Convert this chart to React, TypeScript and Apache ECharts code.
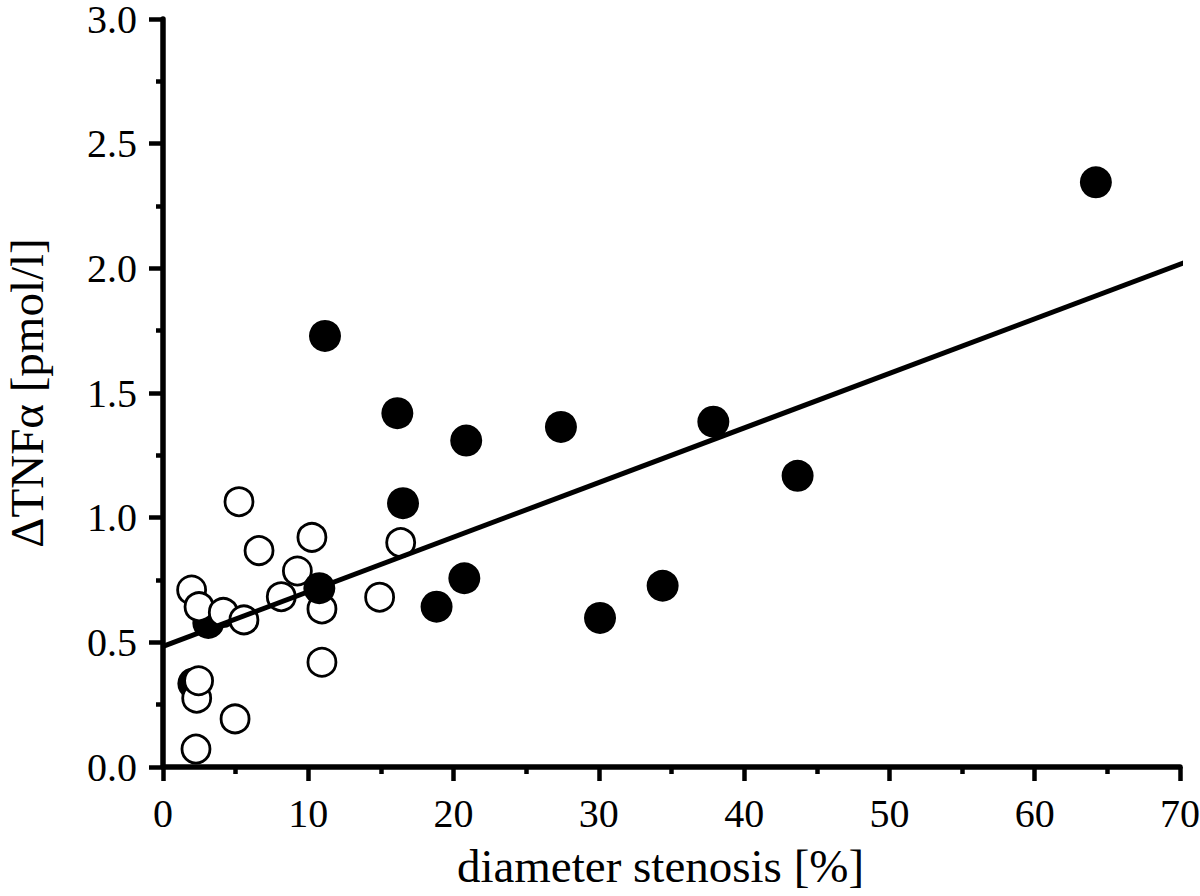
import React, { useEffect, useRef } from "react";
import * as echarts from "echarts";

// Filled circles partly hidden beneath open circles
const filledUnderX = [3.12, 2.09];
const filledUnderY = [0.578, 0.335];

// Open circles
const openX = [5.23, 6.61, 10.25, 9.25, 16.36, 8.14, 14.91, 1.97, 2.48, 4.15, 5.57, 10.94, 10.94, 2.32, 2.45, 4.96, 2.27];
const openY = [1.064, 0.868, 0.921, 0.786, 0.9, 0.683, 0.681, 0.71, 0.643, 0.62, 0.59, 0.634, 0.42, 0.276, 0.346, 0.193, 0.072];

// Filled circles
const filledX = [10.76, 16.52, 20.74, 18.83, 11.15, 16.13, 20.87, 27.39, 30.08, 37.88, 43.68, 34.39, 64.21];
const filledY = [0.717, 1.058, 0.757, 0.643, 1.729, 1.419, 1.309, 1.364, 0.598, 1.385, 1.168, 0.727, 2.345];

// Regression line end points
const lineX = [0, 70.8];
const lineY = [0.484, 2.034];

const xTicks = [0, 10, 20, 30, 40, 50, 60, 70];
const yTicks = [0.0, 0.5, 1.0, 1.5, 2.0, 2.5, 3.0];

const zip = (xs: number[], ys: number[]) => xs.map((x, i) => [x, ys[i]]);

const FONT = "Liberation Serif";

export default function App() {
  const ref = useRef<HTMLDivElement>(null);
  useEffect(() => {
    if (!ref.current) return;
    const chart = echarts.init(ref.current, undefined, { renderer: "svg" });
    const axisCommon = {
      axisLine: { show: true, lineStyle: { color: "#000", width: 5.5 } },
      axisTick: { show: true, length: 14, lineStyle: { color: "#000", width: 4.5 } },
      minorTick: { show: true, splitNumber: 2, length: 7, lineStyle: { color: "#000", width: 4.5 } },
      splitLine: { show: false },
      minorSplitLine: { show: false },
    };
    chart.setOption({
      animation: false,
      backgroundColor: "#fff",
      grid: { left: 163, right: 20, top: 19, bottom: 129, containLabel: false, outerBoundsMode: "none" },
      xAxis: {
        type: "value",
        min: xTicks[0],
        max: xTicks[xTicks.length - 1],
        interval: 10,
        ...axisCommon,
        axisLabel: {
          margin: 28,
          color: "#000",
          fontFamily: FONT,
          fontSize: 40,
          lineHeight: 36,
          formatter: (v: number) => String(Math.round(v)),
        },
        name: "diameter stenosis [%]",
        nameLocation: "middle",
        nameGap: 75,
        nameTextStyle: { color: "#000", fontFamily: FONT, fontSize: 47, padding: [0, 22, 0, 0] },
      },
      yAxis: {
        type: "value",
        min: yTicks[0],
        max: yTicks[yTicks.length - 1],
        interval: 0.5,
        ...axisCommon,
        axisLabel: {
          margin: 26,
          color: "#000",
          fontFamily: FONT,
          fontSize: 40,
          lineHeight: 28,
          padding: [9, 0, 0, 0],
          formatter: (v: number) => v.toFixed(1),
        },
        name: "ΔTNFα [pmol/l]",
        nameLocation: "middle",
        nameGap: 113,
        nameTextStyle: { color: "#000", fontFamily: FONT, fontSize: 47 },
      },
      series: [
        {
          type: "line",
          data: zip(lineX, lineY),
          symbol: "none",
          clip: false,
          lineStyle: { color: "#000", width: 5 },
          silent: true,
        },
        {
          type: "scatter",
          data: zip(filledUnderX, filledUnderY),
          symbol: "circle",
          symbolSize: 32,
          itemStyle: { color: "#000", opacity: 1 },
        },
        {
          type: "scatter",
          data: zip(openX, openY),
          symbol: "circle",
          symbolSize: 28,
          itemStyle: { color: "#fff", borderColor: "#000", borderWidth: 2.8, opacity: 1 },
        },
        {
          type: "scatter",
          data: zip(filledX, filledY),
          symbol: "circle",
          symbolSize: 32,
          itemStyle: { color: "#000", opacity: 1 },
        },
      ],
    });
    return () => chart.dispose();
  }, []);
  return (
    <div
      ref={ref}
      style={{ position: "fixed", left: 0, top: 0, width: 1200, height: 896, background: "#fff" }}
    />
  );
}
